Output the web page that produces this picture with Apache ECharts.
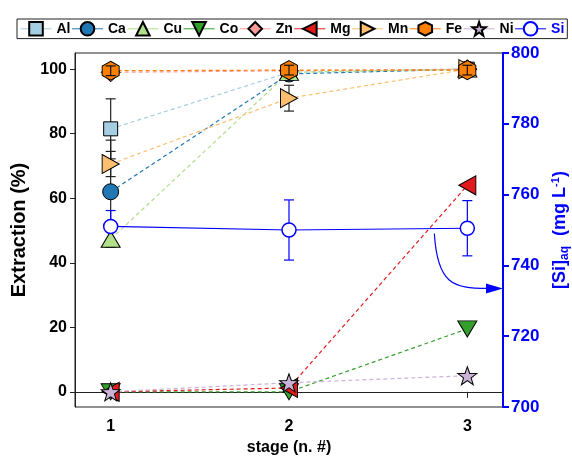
<!DOCTYPE html>
<html>
<head>
<meta charset="utf-8">
<script src="https://cdn.jsdelivr.net/npm/echarts@6/dist/echarts.min.js"></script>
<style>
  html, body { margin: 0; padding: 0; background: #fff; }
  #chart { width: 572px; height: 456px; }
</style>
</head>
<body>
<div id="chart"></div>
<script>
// Leaching stages
const stages = [1, 2, 3];

// Extraction (%) per element and stage, with error half-widths
const al = [81.5, 99, 100];
const alErr = [9.3, 0, 0];
const ca = [62, 98.5, 100];
const caErr = [16, 0, 0];
const cu = [47.3, 99, 100];
const cuErr = [2.5, 0, 0];
const co = [0, 0, 19.5];
const zn = [99, 99.5, 100];
const mg = [0, 1.2, 64];
const mn = [70.6, 91, 100];
const mnErr = [3.9, 4, 0];
const fe = [99.5, 99.7, 99.7];
const feErr = [1.5, 1.5, 1.5];
const ni = [0, 2.8, 5];

// Dissolved silicon (mg/L), right axis
const si = [751, 750, 750.5];
const siErr = [4.5, 8.5, 7.8];

// Axis tick labels
const xTicks = [1, 2, 3];
const leftTicks = [0, 20, 40, 60, 80, 100];

const FONT = 'Liberation Sans, Arial, sans-serif';

const HEX = 'path://M5,0 L9.33,2.5 L9.33,7.5 L5,10 L0.67,7.5 L0.67,2.5 Z';
const STAR = 'path://M10,0 L12.35,6.76 L19.51,6.91 L13.80,11.24 L15.88,18.09 L10,14 L4.12,18.09 L6.20,11.24 L0.49,6.91 L7.65,6.76 Z';
const DIAMOND = 'path://M5,0 L10,5 L5,10 L0,5 Z';
const TRI_UP = 'path://M5,0 L10,10 L0,10 Z';
const TRI_DOWN = 'path://M0,0 L10,0 L5,10 Z';
const TRI_LEFT = 'path://M0,5 L10,0 L10,10 Z';
const TRI_RIGHT = 'path://M0,0 L10,5 L0,10 Z';

function pairs(vals) { return stages.map((s, i) => [s, vals[i]]); }
function errData(vals, errs) {
  const out = [];
  stages.forEach((s, i) => { if (errs[i] > 0) out.push([s, vals[i], errs[i]]); });
  return out;
}

function elementSeries(name, vals, color, symbol, size) {
  return {
    name, type: 'line', data: pairs(vals),
    symbol, symbolSize: size,
    showAllSymbol: true,
    itemStyle: { color, borderColor: '#000', borderWidth: 1 },
    lineStyle: { color, width: 1.2, type: [4, 3] },
    z: 3,
    emphasis: { disabled: true },
    animation: false
  };
}

function errorSeries(data, color, yAxisIndex, z) {
  return {
    type: 'custom', yAxisIndex, z, silent: true, animation: false,
    data,
    renderItem(params, api) {
      const x = api.value(0), v = api.value(1), e = api.value(2);
      const top = api.coord([x, v + e]);
      const bot = api.coord([x, v - e]);
      const w = 5;
      const st = { stroke: color, lineWidth: 1.2 };
      return {
        type: 'group',
        children: [
          { type: 'line', shape: { x1: top[0], y1: top[1], x2: bot[0], y2: bot[1] }, style: st },
          { type: 'line', shape: { x1: top[0] - w, y1: top[1], x2: top[0] + w, y2: top[1] }, style: st },
          { type: 'line', shape: { x1: bot[0] - w, y1: bot[1], x2: bot[0] + w, y2: bot[1] }, style: st }
        ]
      };
    }
  };
}

const chart = echarts.init(document.getElementById('chart'), null, { renderer: 'canvas' });

const option = {
  animation: false,
  textStyle: { fontFamily: FONT },
  grid: {
    left: 75, right: 69, top: 53, bottom: 49,
    outerBoundsMode: 'none',
    containLabel: false,
    show: true, borderColor: '#222', borderWidth: 1, backgroundColor: 'transparent'
  },
  legend: {
    left: 17, top: 19,
    padding: [2, 3],
    itemWidth: 31, itemHeight: 17, itemGap: 1,
    borderColor: '#222', borderWidth: 1,
    textStyle: { fontFamily: FONT, fontWeight: 'bold', fontSize: 14, color: '#000' },
    lineStyle: { type: 'solid', width: 1 },
    data: ['Al', 'Ca', 'Cu', 'Co', 'Zn', 'Mg', 'Mn', 'Fe', 'Ni',
      { name: 'Si', textStyle: { color: '#0000ff' } }]
  },
  xAxis: {
    type: 'value', min: 0.8, max: 3.2,
    name: 'stage (n. #)', nameLocation: 'middle', nameGap: 31,
    nameTextStyle: { fontFamily: FONT, fontWeight: 'bold', fontSize: 16, color: '#000' },
    axisLine: { show: true, lineStyle: { color: '#222', width: 1 } },
    axisTick: { show: true, length: 6, lineStyle: { color: '#222' }, customValues: xTicks },
    axisLabel: { customValues: xTicks, fontFamily: FONT, fontWeight: 'bold', fontSize: 16, color: '#000', margin: 12 },
    splitLine: { show: false }
  },
  yAxis: [
    {
      type: 'value', min: -4.7, max: 105, position: 'left',
      name: 'Extraction (%)', nameLocation: 'middle', nameGap: 44, nameRotate: 90,
      nameTextStyle: { fontFamily: FONT, fontWeight: 'bold', fontSize: 20, color: '#000' },
      axisLine: { show: true, lineStyle: { color: '#222', width: 1 } },
      axisTick: { show: true, length: 5, lineStyle: { color: '#222' }, customValues: leftTicks },
      axisLabel: { customValues: leftTicks, fontFamily: FONT, fontWeight: 'bold', fontSize: 16, color: '#000', margin: 8 },
      splitLine: { show: false }
    },
    {
      type: 'value', min: 700, max: 800, interval: 20, position: 'right',
      name: '{a|[Si]}{sub|aq}{a|  (mg L}{sup|-1}{a|)}',
      nameLocation: 'middle', nameGap: 36, nameRotate: 90,
      nameTextStyle: {
        color: '#0000ff',
        rich: {
          a: { fontFamily: FONT, fontWeight: 'bold', fontSize: 18, color: '#0000ff' },
          sub: { fontFamily: FONT, fontWeight: 'bold', fontSize: 12, color: '#0000ff', verticalAlign: 'bottom', padding: [8, 0, 0, 0] },
          sup: { fontFamily: FONT, fontWeight: 'bold', fontSize: 11, color: '#0000ff', verticalAlign: 'top', padding: [0, 0, 8, 0] }
        }
      },
      axisLine: { show: true, lineStyle: { color: '#0000ff', width: 2 } },
      axisTick: { show: true, length: 6, lineStyle: { color: '#0000ff', width: 2 } },
      axisLabel: { fontFamily: FONT, fontWeight: 'bold', fontSize: 17, color: '#0000ff', margin: 8 },
      splitLine: { show: false }
    }
  ],
  series: [
    errorSeries(errData(al, alErr), '#222', 0, 2),
    errorSeries(errData(ca, caErr), '#222', 0, 2),
    errorSeries(errData(cu, cuErr), '#222', 0, 2),
    errorSeries(errData(mn, mnErr), '#222', 0, 2),
    elementSeries('Al', al, '#a6cee3', 'rect', 14),
    elementSeries('Ca', ca, '#1f78b4', 'circle', 16),
    elementSeries('Cu', cu, '#b2df8a', TRI_UP, [19, 16]),
    elementSeries('Co', co, '#33a02c', TRI_DOWN, [19, 16]),
    elementSeries('Zn', zn, '#fb9a99', DIAMOND, [19, 19]),
    elementSeries('Mg', mg, '#e31a1c', TRI_LEFT, [17, 19]),
    elementSeries('Mn', mn, '#fdbf6f', TRI_RIGHT, [17, 19]),
    elementSeries('Fe', fe, '#ff7f00', HEX, [17, 19]),
    errorSeries(errData(fe, feErr), '#111', 0, 4),
    elementSeries('Ni', ni, '#cab2d6', STAR, [19, 18]),
    {
      name: 'Si', type: 'line', yAxisIndex: 1, data: pairs(si),
      symbol: 'circle', symbolSize: 14,
      itemStyle: { color: '#fff', borderColor: '#0000ff', borderWidth: 1.5 },
      lineStyle: { color: '#0000ff', width: 1.2, type: 'solid' },
      z: 3, emphasis: { disabled: true }, animation: false
    },
    errorSeries(errData(si, siErr), '#0000ff', 1, 2)
  ]
};

chart.setOption(option);

// Curved arrow pointing from the Si series toward its (right) axis
const arrowFrom = [2.815, 749];
const arrowTo = [3.2, 733.5];
const p0 = chart.convertToPixel({ xAxisIndex: 0, yAxisIndex: 1 }, arrowFrom);
const p3 = chart.convertToPixel({ xAxisIndex: 0, yAxisIndex: 1 }, arrowTo);
const headLen = 17, headHalf = 5;
chart.setOption({
  graphic: [
    {
      type: 'bezierCurve', silent: true, z: 10,
      shape: {
        x1: p0[0], y1: p0[1],
        cpx1: p0[0] + 3, cpy1: p3[1] - 5,
        cpx2: p0[0] + 18, cpy2: p3[1],
        x2: p3[0] - headLen + 2, y2: p3[1]
      },
      style: { stroke: '#0000ff', lineWidth: 1.2, fill: null }
    },
    {
      type: 'polygon', silent: true, z: 10,
      shape: { points: [[p3[0] - headLen, p3[1] - headHalf], [p3[0], p3[1]], [p3[0] - headLen, p3[1] + headHalf]] },
      style: { fill: '#0000ff' }
    }
  ]
});
</script>
</body>
</html>
